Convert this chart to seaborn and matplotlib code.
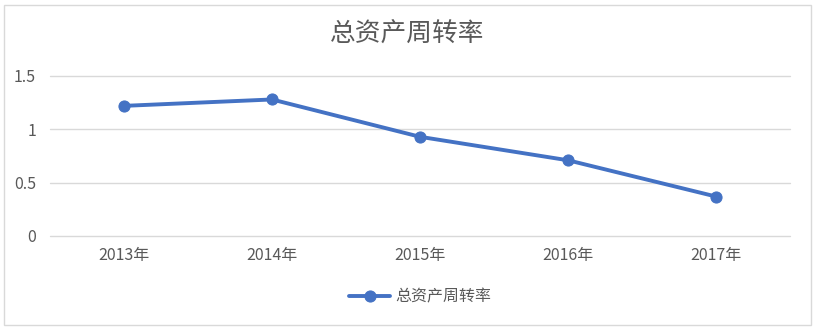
import matplotlib
matplotlib.use("Agg")
import matplotlib.pyplot as plt
import seaborn as sns
import pandas as pd
from matplotlib.patches import Rectangle

years = ["2013年", "2014年", "2015年", "2016年", "2017年"]
values = [1.22, 1.28, 0.93, 0.71, 0.37]
series_name = "总资产周转率"
yticks = [0, 0.5, 1, 1.5]
ytick_labels = ["0", "0.5", "1", "1.5"]

sns.set_theme(style="white")
plt.rcParams['font.family'] = ['Noto Sans CJK SC', 'DejaVu Sans']

df = pd.DataFrame({"year": years, "value": values})
df["x"] = range(len(years))

fig = plt.figure(figsize=(8.15, 3.29), dpi=100)
ax = fig.add_axes([50/815, 1-236/329, 740/815, 160/329])

sns.lineplot(data=df, x="x", y="value", ax=ax, color="#4472C4", linewidth=2.8,
             marker="o", markersize=8, markeredgecolor="#4472C4", label=series_name)

ax.set_xlim(-0.5, len(years)-0.5)
ax.set_ylim(0, 1.5)
ax.set_yticks(yticks)
ax.set_yticklabels(ytick_labels)
ax.set_xticks(range(len(years)))
ax.set_xticklabels(years)
ax.set_xlabel("")
ax.set_ylabel("")
for s in ax.spines.values():
    s.set_visible(False)
ax.grid(axis="y", color="#D9D9D9", linewidth=1)
for gl in ax.get_ygridlines():
    gl.set_clip_on(False)
ax.set_axisbelow(True)
ax.tick_params(axis="both", length=0, labelsize=11.5, colors="#595959")
ax.tick_params(axis="x", pad=8)
ax.tick_params(axis="y", pad=10)

fig.text(0.5, 1-35/329, series_name, ha="center", va="center", fontsize=18.5, color="#595959")

leg = ax.legend(loc="center", bbox_to_anchor=(0.5, -0.38), frameon=False, fontsize=11.5,
                handlelength=2.6, handletextpad=0.3)
for t in leg.get_texts():
    t.set_color("#595959")

fig.patches.append(Rectangle((4/815, 4/329), 807/815, 320/329, transform=fig.transFigure,
                             fill=False, edgecolor="#D9D9D9", linewidth=1))

fig.savefig("out.png", dpi=100)
